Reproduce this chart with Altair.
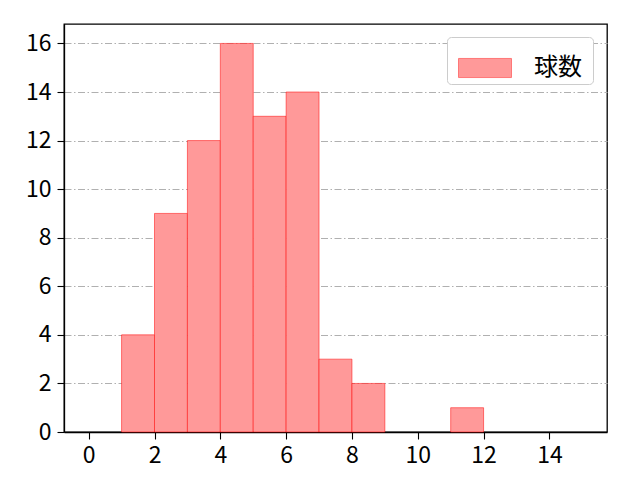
import pandas as pd
import altair as alt

# histogram bins (width 1) and pitch counts
bin_start = [1, 2, 3, 4, 5, 6, 7, 8, 11]
bin_end = [2, 3, 4, 5, 6, 7, 8, 9, 12]
counts = [4, 9, 12, 16, 13, 14, 3, 2, 1]
series_name = "球数"

x_ticks = [0, 2, 4, 6, 8, 10, 12, 14]
y_ticks = [0, 2, 4, 6, 8, 10, 12, 14, 16]

df = pd.DataFrame({
    "start": bin_start,
    "end": bin_end,
    "count": counts,
    "series": [series_name] * len(counts),
})

font = "Noto Sans CJK JP"

# flat rectangle legend symbol, like matplotlib's patch
rect_path = "M-1,-0.36L1,-0.36L1,0.36L-1,0.36Z"

bars = alt.Chart(df).mark_rect(
    stroke="#ff0000", strokeOpacity=0.5, strokeWidth=1
).encode(
    x=alt.X("start:Q", title=None,
            scale=alt.Scale(domain=[-0.75, 15.75], nice=False, zero=False),
            axis=alt.Axis(values=x_ticks, grid=False, format="d")),
    x2="end:Q",
    y=alt.Y("count:Q", title=None,
            scale=alt.Scale(domain=[0, 16.8], nice=False),
            axis=alt.Axis(values=y_ticks, grid=True, format="d")),
    y2=alt.datum(0),
    fill=alt.Fill("series:N",
                  scale=alt.Scale(range=["#ff9999"]),
                  legend=alt.Legend(
                      orient="none", legendX=383, legendY=13,
                      # blank braille cell as a small title on the right: extra room after the label
                      title="\u2800", titleOrient="right", titleFontSize=9,
                      titlePadding=0,
                      symbolType=rect_path, symbolSize=2809,
                      symbolFillColor="#ff9999", symbolStrokeColor="#ff7777",
                      symbolStrokeWidth=1, symbolOffset=7,
                      labelFont=font, labelFontSize=24, labelOffset=22,
                      labelColor="#000000",
                      fillColor="white", strokeColor="#cccccc",
                      cornerRadius=4, padding=4, rowPadding=0)),
)

chart = bars.properties(
    width=543,
    height=408,
    padding={"left": 56, "top": 16, "right": 25, "bottom": 40},
    autosize=alt.AutoSizeParams(type="none"),
).configure_view(
    stroke="#000000", strokeWidth=1.3
).configure_axis(
    domainColor="#000000", domainWidth=1.3,
    tickColor="#000000", tickSize=7, tickWidth=1.1,
    labelFont=font, labelFontSize=23, labelColor="#000000",
    gridColor="#b0b0b0", gridDash=[7, 2.5, 1.5, 2.5], gridWidth=1,
).configure_axisX(
    labelAngle=0, labelPadding=5,
).configure_axisY(
    labelPadding=6,
)

chart.save("out.html", embed_options={"renderer": "svg", "actions": False})
